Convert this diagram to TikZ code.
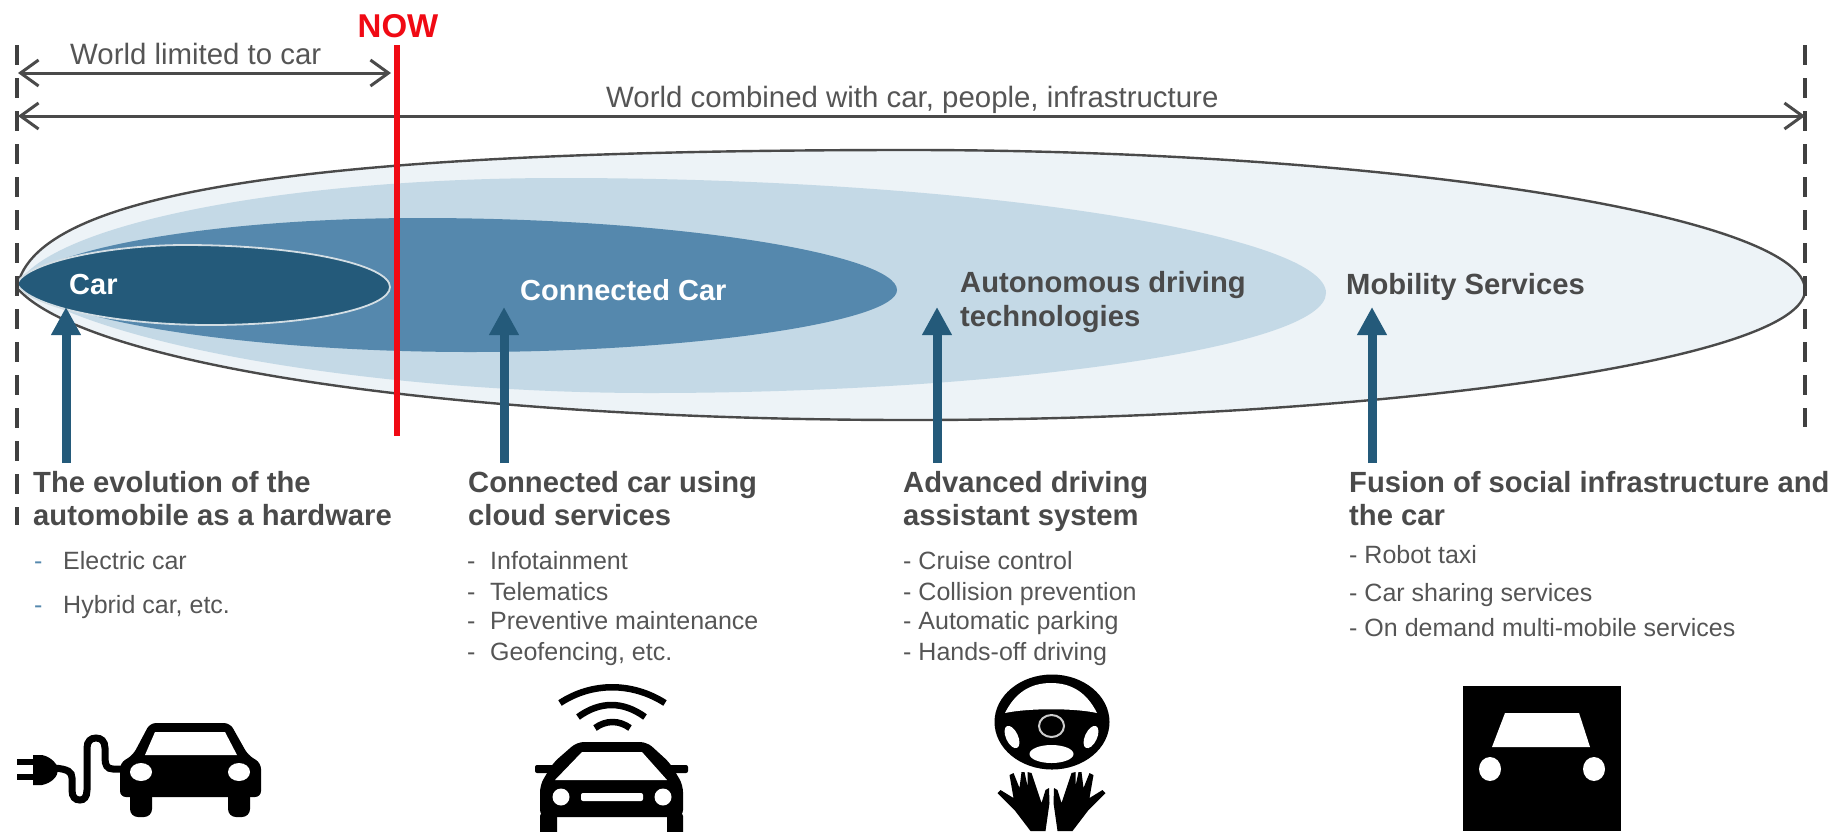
\documentclass[tikz,border=0pt]{standalone}
\usepackage{fontspec}
\setmainfont{Liberation Sans}
\usetikzlibrary{arrows.meta}
\definecolor{txtg}{HTML}{555555}
\definecolor{txtb}{HTML}{4A4A4A}
\definecolor{lineg}{HTML}{4A4A4A}
\definecolor{outerc}{HTML}{EDF3F7}
\definecolor{lightc}{HTML}{C4D9E6}
\definecolor{midc}{HTML}{5588AD}
\definecolor{darkc}{HTML}{245A7A}
\definecolor{nowred}{HTML}{F00A14}
\tikzset{
  lbl/.style={inner sep=0pt,anchor=base west,text=txtg,font=\fontsize{29.4}{29.4}\selectfont},
  head/.style={inner sep=0pt,anchor=base west,text=txtb,font=\fontsize{29.2}{29.2}\selectfont\bfseries},
  item/.style={inner sep=0pt,anchor=base west,text=txtg,font=\fontsize{25}{25}\selectfont},
  wlabel/.style={inner sep=0pt,anchor=base west,text=white,font=\fontsize{29}{29}\selectfont\bfseries},
  dim/.style={draw=lineg,line width=3pt,{Straight Barb[length=18pt,width=26pt,line width=3pt]}-{Straight Barb[length=18pt,width=26pt,line width=3pt]}},
  up/.style={draw=darkc,line width=9pt,-{Triangle[length=28pt,width=28pt]}},
  vdash/.style={draw=black!75,line width=3.2pt,dash pattern=on 20pt off 13pt},
  ic/.style={fill=black,draw=none},
  icw/.style={fill=white,draw=none}
}
\begin{document}
\begin{tikzpicture}[x=1pt,y=-1pt]
\useasboundingbox (0,0) rectangle (1835,831);
% ellipses
\fill[outerc,draw=lineg,line width=2.4pt] (17,288) .. controls (35,185) and (350,150) .. (910,150) .. controls (1380,150) and (1805,215) .. (1805,290) .. controls (1805,360) and (1380,420) .. (910,420) .. controls (450,420) and (85,365) .. (17,288) -- cycle;
\fill[lightc] (17,285) .. controls (50,225) and (280,178) .. (560,178) .. controls (980,178) and (1326,235) .. (1326,293) .. controls (1326,348) and (1000,393) .. (650,393) .. controls (390,393) and (110,350) .. (17,285) -- cycle;
\fill[midc] (17,285) .. controls (50,245) and (230,218) .. (420,218) .. controls (680,218) and (897,255) .. (897,290) .. controls (897,322) and (690,352) .. (470,352) .. controls (280,352) and (75,328) .. (17,285) -- cycle;
\fill[darkc,draw=white!80!darkc,line width=1.8pt] (17,284) .. controls (25,262) and (110,245) .. (185,245) .. controls (300,245) and (390,265) .. (390,287) .. controls (390,308) and (310,325) .. (210,325) .. controls (120,325) and (30,308) .. (17,284) -- cycle;
% guides
\coordinate (lt) at (17,45); \coordinate (lb) at (17,525);
\coordinate (rt) at (1805,45); \coordinate (rb) at (1805,427);
\draw[vdash] (lt) -- (lb);
\draw[vdash] (rt) -- (rb);
\coordinate (a1l) at (18,73); \coordinate (a1r) at (391,73);
\coordinate (a2l) at (18,116); \coordinate (a2r) at (1805,116);
\draw[dim] (a1l) -- (a1r);
\draw[dim] (a2l) -- (a2r);
\coordinate (nt) at (397,45); \coordinate (nb) at (397,436);
\draw[nowred,line width=6pt] (nt) -- (nb);
% arrows
\foreach \n/\x in {u1/66,u2/504,u3/937,u4/1372}{
  \coordinate (\n a) at (\x,463); \coordinate (\n b) at (\x,307);
  \draw[up] (\n a) -- (\n b);
}
% top labels
\node[inner sep=0pt,anchor=base,text=nowred,font=\fontsize{33}{33}\selectfont\bfseries] (now) at (398,37) {NOW};
\node[lbl] (wl) at (70,64) {World limited to car};
\node[lbl] (wc) at (606,107) {World combined with car, people, infrastructure};
% ellipse labels
\node[wlabel] (car) at (69,294) {Car};
\node[wlabel] (cc) at (520,300) {Connected Car};
\node[head] (ad1) at (960,292) {Autonomous driving};
\node[head] (ad2) at (960,326) {technologies};
\node[head] (ms) at (1346,294) {Mobility Services};
% columns
\node[head] (h1a) at (33,492) {The evolution of the};
\node[head] (h1b) at (33,525) {automobile as a hardware};
\node[item,text=midc] (d1a) at (34,569) {-};
\node[item,text=midc] (d1b) at (34,613) {-};
\node[item] (t1a) at (63,569) {Electric car};
\node[item] (t1b) at (63,613) {Hybrid car, etc.};
\node[head] (h2a) at (468,492) {Connected car using};
\node[head] (h2b) at (468,525) {cloud services};
\foreach \n/\y/\t in {a/569/Infotainment,b/600/Telematics,c/629/Preventive maintenance,d/660/{Geofencing, etc.}}{
  \node[item] (d2\n) at (467,\y) {-};
  \node[item] (t2\n) at (490,\y) {\t};
}
\node[head] (h3a) at (903,492) {Advanced driving};
\node[head] (h3b) at (903,525) {assistant system};
\foreach \n/\y/\t in {a/569/Cruise control,b/600/Collision prevention,c/629/Automatic parking,d/660/Hands-off driving}{
  \node[item] (t3\n) at (903,\y) {- \t};
}
\node[head] (h4a) at (1349,492) {Fusion of social infrastructure and};
\node[head] (h4b) at (1349,525) {the car};
\node[item] (t4a) at (1349,563) {- Robot taxi};
\node[item] (t4b) at (1349,601) {- Car sharing services};
\node[item] (t4c) at (1349,636) {- On demand multi-mobile services};
% icon 1: electric car
\fill[ic,rounded corners=6pt] (150,723) -- (230,723) -- (248,755) -- (261,763) -- (261,797) -- (120,797) -- (120,763) -- (133,755) -- cycle;
\fill[icw] (155,732) -- (225,732) -- (237,755) -- (145,755) -- cycle;
\fill[ic,rounded corners=8pt] (130,785) rectangle (152,817);
\fill[ic,rounded corners=8pt] (228,785) rectangle (250,817);
\fill[icw] (141,772) ellipse [x radius=11,y radius=9];
\fill[icw] (239,772) ellipse [x radius=11,y radius=9];
\draw[black,line width=7pt] (122,769) -- (113,769) .. controls (107,769) and (105,765) .. (105,758) -- (105,748) .. controls (105,741) and (101,738) .. (96,738) .. controls (91,738) and (87,741) .. (87,748) -- (87,790) .. controls (87,797) and (84,800) .. (80,800) .. controls (75,800) and (72,797) .. (72,790) -- (72,778) .. controls (72,772) and (68,769) .. (54,768);
\fill[ic] (33,755) -- (42,755) .. controls (52,757) and (58,765) .. (58,770) .. controls (58,776) and (52,783) .. (42,785) -- (33,785) -- cycle;
\fill[ic] (17,759) rectangle (34,765);
\fill[ic] (17,774) rectangle (34,780);
% icon 2: connected car
\draw[black,line width=6.5pt] (560,703) .. controls (592,682) and (632,682) .. (665,703);
\draw[black,line width=6.5pt] (578,717) .. controls (600,701) and (623,701) .. (645,717);
\draw[black,line width=6.5pt] (595,728) .. controls (606,720) and (619,720) .. (630,728);
\fill[ic,rounded corners=7pt] (577,742) -- (647,742) -- (670,763) -- (683,785) -- (683,817) -- (540,817) -- (540,785) -- (553,763) -- cycle;
\fill[ic,rounded corners=2pt] (535,765) rectangle (560,773);
\fill[ic,rounded corners=2pt] (663,765) rectangle (688,773);
\fill[icw] (582,752) -- (642,752) -- (667,780) -- (555,780) -- cycle;
\fill[icw] (561,797) circle (8.5);
\fill[icw] (663,797) circle (8.5);
\fill[icw,rounded corners=2pt] (581,793) rectangle (643,801);
\fill[ic,rounded corners=4pt] (540,812) rectangle (557,840);
\fill[ic,rounded corners=4pt] (667,812) rectangle (683,840);
% icon 3: wheel + hands
\fill[ic] (1052,722) ellipse [x radius=57.5,y radius=47.5];
\fill[icw] (1005,713) .. controls (1015,693) and (1030,683) .. (1051,683) .. controls (1072,683) and (1087,693) .. (1097,713) .. controls (1075,708) and (1028,708) .. (1005,713) -- cycle;
\fill[icw,rotate around={25:(1012,737)}] (1012,737) ellipse [x radius=6,y radius=12];
\fill[icw,rotate around={-25:(1091,737)}] (1091,737) ellipse [x radius=6,y radius=12];
\fill[icw] (1051.5,754) ellipse [x radius=22,y radius=9];
\draw[black!20,line width=2pt] (1051.5,726) ellipse [x radius=12.5,y radius=11];
\foreach \s in {1,-1}{
  \fill[ic,xshift=1051.5pt,xscale=\s] (-2.5,788) -- (-2,803) -- (-6,831) -- (-21,831) -- (-37,810) -- (-54,793) -- (-51,790) -- (-38,798) -- (-42,775) -- (-38,773) -- (-32,788) -- (-30,772) -- (-27,772) -- (-24,786) -- (-24,772) -- (-20,773) -- (-10,803) -- (-6,790) -- cycle;
}
% icon 4: mobility
\fill[ic] (1463,686) rectangle (1621,831);
\fill[icw] (1505,713) -- (1579,713) -- (1590,747) -- (1492,747) -- cycle;
\fill[icw] (1490,769) ellipse [x radius=11,y radius=12];
\fill[icw] (1594,769) ellipse [x radius=11,y radius=12];
\end{tikzpicture}
\end{document}
